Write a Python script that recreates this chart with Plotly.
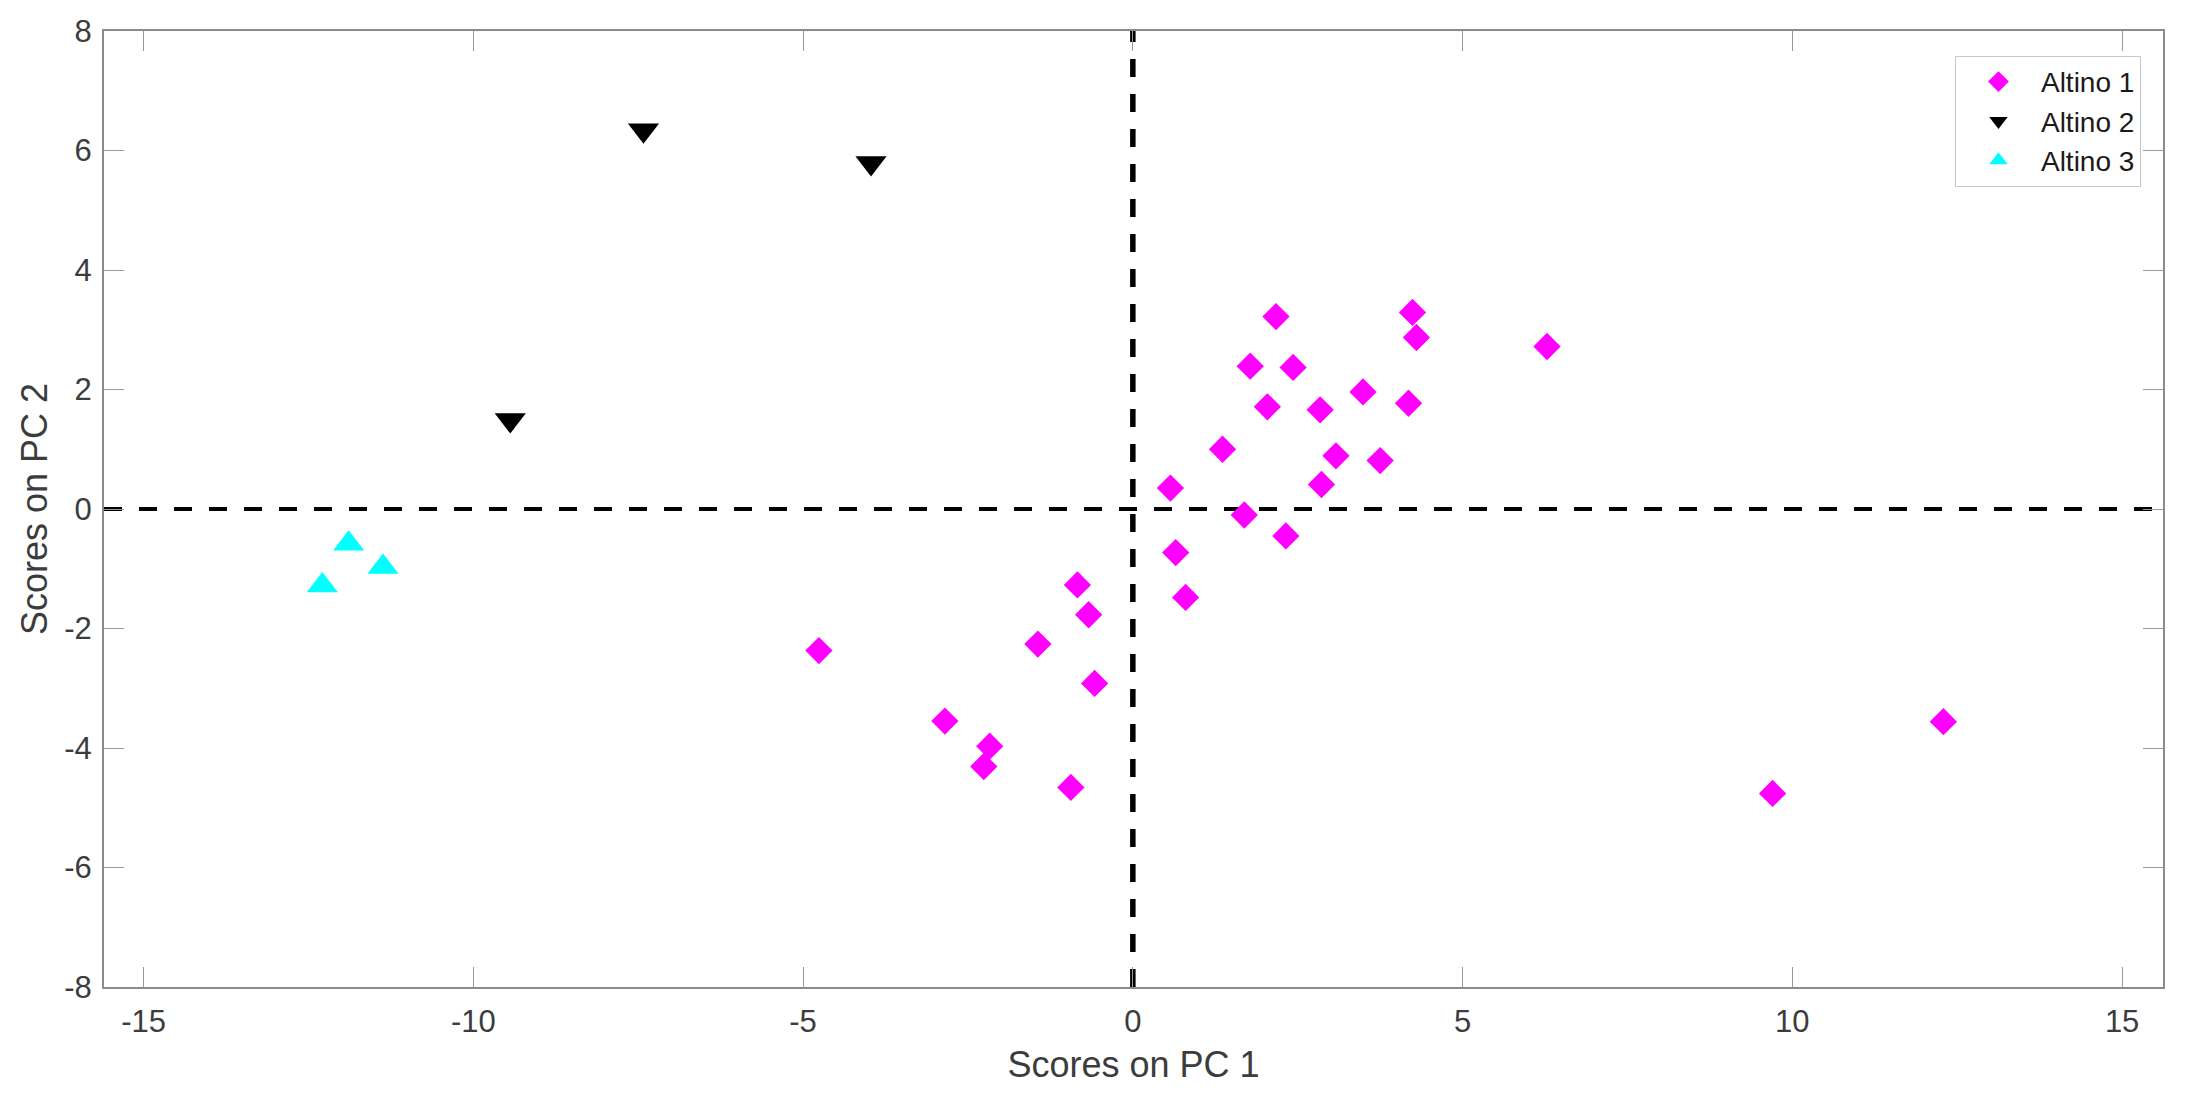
import plotly.graph_objects as go

# Altino 1 (magenta diamonds)
a1_x = [2.17, 4.24, 4.30, 6.28, 1.78, 2.43, 2.04, 2.84, 3.49, 4.18, 1.36, 3.08, 3.75, 0.57, 2.86,
        1.69, 2.32, 0.65, 0.80, -4.76, -0.84, -0.67, -1.44, -0.58, -2.85, -2.17, -2.26, -0.94,
        12.29, 9.70]
a1_y = [3.22, 3.29, 2.87, 2.72, 2.39, 2.37, 1.71, 1.66, 1.96, 1.77, 1.00, 0.89, 0.81, 0.35, 0.41,
        -0.10, -0.45, -0.73, -1.48, -2.37, -1.27, -1.77, -2.26, -2.92, -3.55, -3.97, -4.31, -4.66,
        -3.56, -4.76]
# Altino 2 (black down-triangles)
a2_x = [-7.42, -3.97, -9.44]
a2_y = [6.34, 5.79, 1.49]
# Altino 3 (cyan up-triangles)
a3_x = [-11.89, -11.37, -12.29]
a3_y = [-0.58, -0.97, -1.28]

series_names = ["Altino 1", "Altino 2", "Altino 3"]
x_ticks = [-15, -10, -5, 0, 5, 10, 15]
x_tick_labels = ["-15", "-10", "-5", "0", "5", "10", "15"]
y_ticks = [-8, -6, -4, -2, 0, 2, 4, 6, 8]
y_tick_labels = ["-8", "-6", "-4", "-2", "0", "2", "4", "6", "8"]
x_range = [-15.6, 15.62]
y_range = [-8, 8]

FONT = "Liberation Sans, Arial, sans-serif"
TXT = "#3c3c3c"

fig = go.Figure()
fig.add_trace(go.Scatter(x=a1_x, y=a1_y, mode="markers", name=series_names[0],
                         marker=dict(symbol="diamond", size=21, color="#ff00ff", line=dict(width=0))))
fig.add_trace(go.Scatter(x=a2_x, y=a2_y, mode="markers", name=series_names[1],
                         marker=dict(symbol="triangle-down", size=27, color="#000000", line=dict(width=0))))
fig.add_trace(go.Scatter(x=a3_x, y=a3_y, mode="markers", name=series_names[2],
                         marker=dict(symbol="triangle-up", size=27, color="#00ffff", line=dict(width=0))))

# dashed zero lines
fig.add_shape(type="line", xref="x", yref="y", x0=x_range[0], x1=x_range[1], y0=0, y1=0,
              line=dict(color="black", width=4, dash="18px,17px"), layer="below")
fig.add_shape(type="line", xref="x", yref="y", x0=0, x1=0, y0=y_range[0], y1=y_range[1],
              line=dict(color="black", width=5.5, dash="18px,17px"), layer="below")

axis_common = dict(
    showgrid=False, zeroline=False, showline=True, linecolor="#8c8c8c", linewidth=2,
    mirror="ticks", ticks="inside", ticklen=20, tickwidth=1, tickcolor="#9a9a9a",
    tickfont=dict(family=FONT, size=31, color=TXT),
)

fig.update_layout(
    width=2187, height=1098, autosize=False,
    margin=dict(l=104, r=24, t=31, b=111),
    paper_bgcolor="white", plot_bgcolor="white",
    font=dict(family=FONT, color=TXT),
    xaxis=dict(range=x_range, tickmode="array", tickvals=x_ticks, ticktext=x_tick_labels,
               ticklabelstandoff=6,
               title=dict(text="Scores on PC 1", font=dict(family=FONT, size=36, color=TXT), standoff=14),
               **axis_common),
    yaxis=dict(range=y_range, tickmode="array", tickvals=y_ticks, ticktext=y_tick_labels,
               ticklabelstandoff=4,
               title=dict(text="Scores on PC 2", font=dict(family=FONT, size=36, color=TXT), standoff=6),
               **axis_common),
    legend=dict(x=0.9893, y=0.974, xanchor="right", yanchor="top",
                bgcolor="white", bordercolor="#c8c8c8", borderwidth=1,
                font=dict(family=FONT, size=28, color="#1a1a1a"),
                itemsizing="trace", itemwidth=75, tracegroupgap=0),
    showlegend=True,
)

fig.write_html("out.html", config={"displayModeBar": False},
               post_script="document.body.style.margin='0';document.body.style.padding='0';")
